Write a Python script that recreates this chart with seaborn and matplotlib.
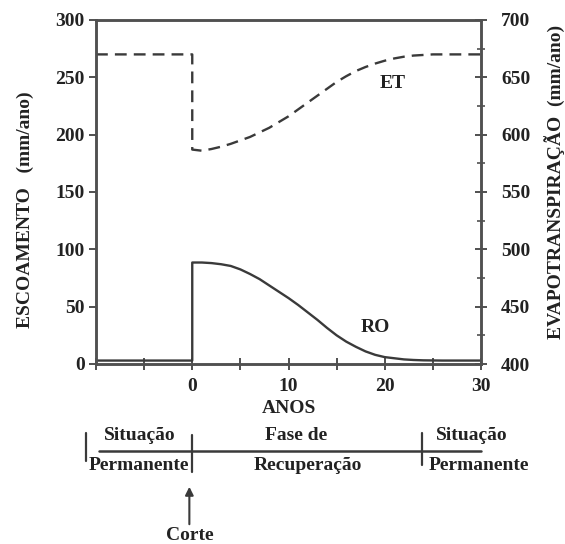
import matplotlib
matplotlib.use("Agg")
import matplotlib.pyplot as plt
from matplotlib.ticker import FixedLocator
import pandas as pd
import seaborn as sns

# Runoff (RO, mm/ano): steady state, jump at the cut (year 0), recovery
ro_years = [-10, 0, 0, 1, 2, 3, 4, 5, 6, 7, 8, 9, 10, 11, 12, 13, 14, 15,
            16, 17, 18, 19, 20, 21, 22, 23, 24, 26, 30]
ro_values = [3, 3, 88.5, 88.5, 88, 87, 85.5, 82.5, 78.5, 74, 68.5, 63, 57.5,
             51.5, 45, 38.5, 31.5, 25, 19.5, 15, 11, 8, 6, 5, 4, 3.5, 3.2, 3, 3]

# Evapotranspiration (ET, mm/ano)
et_years = [-10, 0, 0, 1, 2, 3, 4, 5, 6, 7, 8, 9, 10, 11, 12, 13, 14, 15,
            16, 17, 18, 19, 20, 21, 22, 23, 24, 25, 30]
et_values = [670, 670, 587, 586, 587.5, 589.5, 592, 595, 598, 602, 606, 611,
             616, 622, 628, 634, 640, 646, 651, 655.5, 659, 662, 664.5, 666.5,
             668, 669, 669.5, 670, 670]

x_ticks = [-10, -5, 0, 5, 10, 15, 20, 25, 30]
x_tick_labels = ["", "", "0", "", "10", "", "20", "", "30"]
left_ticks = [0, 50, 100, 150, 200, 250, 300]
right_ticks = [400, 450, 500, 550, 600, 650, 700]
right_minor = [425, 475, 525, 575, 625, 675]

# Phase timeline under the chart
phase_edges = [-11, 0, 23.9]
phase_top = ["Situação", "Fase de", "Situação"]
phase_bottom = ["Permanente", "Recuperação", "Permanente"]

sns.set_theme(style="ticks")
plt.rcParams["font.family"] = ["Liberation Serif", "DejaVu Serif"]
plt.rcParams["font.weight"] = "bold"
plt.rcParams["font.size"] = 14

line_color = "#3a3a3a"
spine_color = "#505050"
text_color = "#222222"

W, H = 565, 544
fig = plt.figure(figsize=(W / 100, H / 100), dpi=100)
L, R, T, B = 96, 481, 20, 364
ax = fig.add_axes([L / W, 1 - B / H, (R - L) / W, (B - T) / H])
ax2 = ax.twinx()

ro_df = pd.DataFrame({"ano": ro_years, "RO": ro_values})
et_df = pd.DataFrame({"ano": et_years, "ET": et_values})

sns.lineplot(data=ro_df, x="ano", y="RO", ax=ax, sort=False, estimator=None,
             color=line_color, lw=1.7)
sns.lineplot(data=et_df, x="ano", y="ET", ax=ax2, sort=False, estimator=None,
             color=line_color, lw=1.7, linestyle=(0, (5, 3)))

ax.set_xlim(-10, 30)
ax.set_ylim(0, 300)
ax2.set_ylim(400, 700)

ax.set_xticks(x_ticks)
ax.set_xticklabels(x_tick_labels)
ax.set_yticks(left_ticks)
ax2.set_yticks(right_ticks)
ax2.yaxis.set_minor_locator(FixedLocator(right_minor))

for a in (ax, ax2):
    for s in a.spines.values():
        s.set_visible(True)
        s.set_color(spine_color)
        s.set_linewidth(1.8)

ax.tick_params(axis="x", direction="inout", length=8, width=1.4, color=spine_color,
               pad=6, labelsize=14, labelcolor=text_color)
ax.tick_params(axis="y", direction="out", length=5, width=1.4, color=spine_color,
               pad=3, labelsize=14, labelcolor=text_color)
ax2.tick_params(axis="y", which="major", direction="inout", length=9, width=1.4,
                color=spine_color, pad=10, labelsize=14, labelcolor=text_color)
ax2.tick_params(axis="y", which="minor", direction="inout", length=6, width=1.2,
                color=spine_color)
for lab in ax.get_xticklabels() + ax.get_yticklabels() + ax2.get_yticklabels():
    lab.set_fontweight("bold")

ax.set_xlabel("ANOS", fontsize=14, fontweight="bold", color=text_color, labelpad=4)
ax.set_ylabel("ESCOAMENTO   (mm/ano)", fontsize=14, fontweight="bold", color=text_color)
ax2.set_ylabel("EVAPOTRANSPIRAÇÃO  (mm/ano)", fontsize=14, fontweight="bold",
               color=text_color)
ax.yaxis.label.set_va("center")
ax.yaxis.set_label_coords((25 - L) / (R - L), (B - 210) / (B - T))
ax2.yaxis.label.set_va("center")
ax2.yaxis.set_label_coords((555 - L) / (R - L), (B - 182) / (B - T))

ax2.text(20.8, 645, "ET", ha="center", va="center", fontsize=14,
         fontweight="bold", color=text_color)
ax.text(19.0, 32, "RO", ha="center", va="center", fontsize=14,
        fontweight="bold", color=text_color)

# Timeline: x in years, y in pixel rows of the figure
tl = fig.add_axes([L / W, 0, (R - L) / W, 124 / H])
tl.set_xlim(-10, 30)
tl.set_ylim(544, 420)
tl.axis("off")
tl.plot([-9.7, 30.0], [451, 451], color=line_color, lw=1.8, clip_on=False)
tick_spans = [(433, 461), (435, 472), (433, 465)]
for xe, (y0, y1) in zip(phase_edges, tick_spans):
    tl.plot([xe, xe], [y0, y1], color=line_color, lw=1.6, clip_on=False)

top_x = [-5.5, 10.8, 29.0]
bottom_x = [-5.5, 12.0, 29.8]
for xt, xb, t, b in zip(top_x, bottom_x, phase_top, phase_bottom):
    tl.text(xt, 436, t, ha="center", va="center", fontsize=14,
            fontweight="bold", color=text_color, clip_on=False)
    tl.text(xb, 466, b, ha="center", va="center", fontsize=14,
            fontweight="bold", color=text_color, clip_on=False)

tl.annotate("", xy=(-0.3, 484), xytext=(-0.3, 527),
            arrowprops=dict(arrowstyle="-|>", color=line_color, lw=1.5,
                            mutation_scale=12),
            annotation_clip=False)
tl.text(-0.3, 536, "Corte", ha="center", va="center", fontsize=14,
        fontweight="bold", color=text_color, clip_on=False)

fig.savefig("out.png", dpi=100, facecolor="white")
